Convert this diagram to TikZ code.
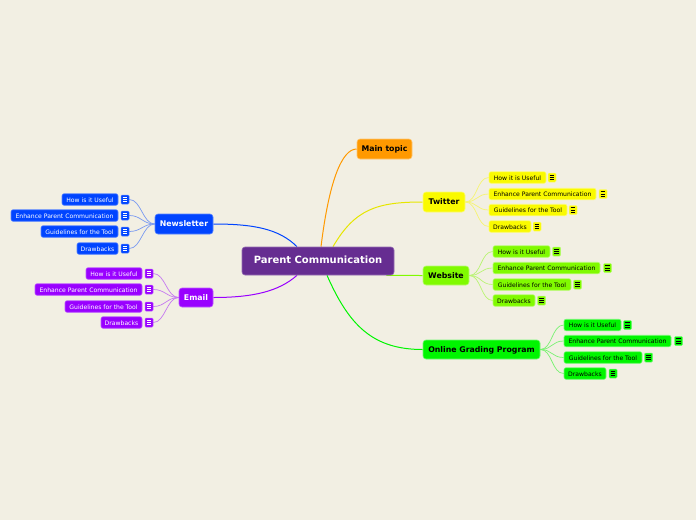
\documentclass[tikz,border=0pt]{standalone}
\usepackage{fontspec}
\setmainfont{DejaVu Sans}
\usetikzlibrary{backgrounds}
\definecolor{bgc}{RGB}{242,239,227}
\definecolor{cPC}{RGB}{102,45,145}
\definecolor{cMain}{RGB}{255,153,0}
\definecolor{cTw}{RGB}{250,250,0}
\definecolor{cWeb}{RGB}{128,250,0}
\definecolor{cOGP}{RGB}{0,245,0}
\definecolor{cNews}{RGB}{0,68,255}
\definecolor{cEmail}{RGB}{153,0,255}
\begin{document}
\begin{tikzpicture}[x=1pt,y=-1pt,
  box/.style={rounded corners=3pt, inner sep=0pt, line width=0.6pt, text height=0.72em, text depth=0.18em},
  topic/.style={box, minimum height=20pt, font=\fontsize{7.8}{9}\selectfont\bfseries},
  sub/.style={box, rounded corners=2pt, minimum height=11.5pt, font=\fontsize{6.1}{7}\selectfont},
  darkbox/.style={fill=#1, draw=#1!65!white, text=white},
  lightbox/.style={fill=#1, draw=#1!55!white, text=black},
  iconW/.style={fill=#1, draw=#1!65!white, line width=0.5pt, rounded corners=1pt, minimum width=8pt, minimum height=9pt, inner sep=0pt,
    path picture={\foreach \dy in {-2.3,0,2.3}{\draw[white, line width=0.9pt] ([xshift=-2.4pt,yshift=\dy pt]path picture bounding box.center) -- ++(4.8,0);}}},
  iconK/.style={fill=#1, draw=#1!55!white, line width=0.5pt, rounded corners=1pt, minimum width=8pt, minimum height=9pt, inner sep=0pt,
    path picture={\foreach \dy in {-2.3,0,2.3}{\draw[black, line width=0.9pt] ([xshift=-2.4pt,yshift=\dy pt]path picture bounding box.center) -- ++(4.8,0);}}},
  mainln/.style={line width=1pt},
  subln/.style={line width=0.7pt, draw=#1!50!bgc}
]
\useasboundingbox (0,0) rectangle (696,520);
\begin{scope}[on background layer]
\fill[bgc] (0,0) rectangle (696,520);
\end{scope}

% central topic
\node[box, fill=cPC, draw=cPC!70!white, text=white, minimum width=152pt, minimum height=28pt, font=\fontsize{10}{12}\selectfont\bfseries] (pc) at (318,261) {Parent Communication};

% main topics
\node[topic, lightbox=cMain, minimum width=55pt] (mt) at (384.5,149) {Main topic};
\node[topic, lightbox=cTw, minimum width=42pt] (tw) at (444,202) {Twitter};
\node[topic, lightbox=cWeb, minimum width=46pt, minimum height=19pt] (web) at (446,275.5) {Website};
\node[topic, lightbox=cOGP, minimum width=117pt, minimum height=19pt] (ogp) at (481.5,349.5) {Online Grading Program};
\node[topic, darkbox=cNews, minimum width=58pt] (nl) at (184,224) {Newsletter};
\node[topic, darkbox=cEmail, minimum width=34pt, minimum height=19pt] (em) at (196,297.5) {Email};

% Newsletter children
\node[sub, darkbox=cNews, minimum width=56pt] (n1) at (90,199.5) {How is it Useful};
\node[sub, darkbox=cNews, minimum width=107pt] (n2) at (64.5,215.5) {Enhance Parent Communication};
\node[sub, darkbox=cNews, minimum width=77pt] (n3) at (79.5,231.5) {Guidelines for the Tool};
\node[sub, darkbox=cNews, minimum width=41pt] (n4) at (97.5,248.5) {Drawbacks};
\node[iconW=cNews] (n1i) at (125,199.5) {};
\node[iconW=cNews] (n2i) at (125,215.5) {};
\node[iconW=cNews] (n3i) at (125,231.5) {};
\node[iconW=cNews] (n4i) at (125,248.5) {};

% Email children
\node[sub, darkbox=cEmail, minimum width=56pt] (e1) at (114,273.5) {How is it Useful};
\node[sub, darkbox=cEmail, minimum width=107pt] (e2) at (88.5,289.5) {Enhance Parent Communication};
\node[sub, darkbox=cEmail, minimum width=77pt] (e3) at (103.5,306.5) {Guidelines for the Tool};
\node[sub, darkbox=cEmail, minimum width=41pt] (e4) at (121.5,322.5) {Drawbacks};
\node[iconW=cEmail] (e1i) at (149,273.5) {};
\node[iconW=cEmail] (e2i) at (149,289.5) {};
\node[iconW=cEmail] (e3i) at (149,306.5) {};
\node[iconW=cEmail] (e4i) at (149,322.5) {};

% Twitter children
\node[sub, lightbox=cTw, minimum width=57pt] (t1) at (517.5,177.5) {How it is Useful};
\node[sub, lightbox=cTw, minimum width=107pt] (t2) at (542.5,194) {Enhance Parent Communication};
\node[sub, lightbox=cTw, minimum width=78pt] (t3) at (528,210) {Guidelines for the Tool};
\node[sub, lightbox=cTw, minimum width=42pt] (t4) at (510,226.5) {Drawbacks};
\node[iconK=cTw] (t1i) at (552,177.5) {};
\node[iconK=cTw] (t2i) at (603,194) {};
\node[iconK=cTw] (t3i) at (573,210) {};
\node[iconK=cTw] (t4i) at (537,226.5) {};

% Website children
\node[sub, lightbox=cWeb, minimum width=57pt] (w1) at (521.5,251.5) {How is it Useful};
\node[sub, lightbox=cWeb, minimum width=107pt] (w2) at (546.5,268) {Enhance Parent Communication};
\node[sub, lightbox=cWeb, minimum width=78pt] (w3) at (532,284.5) {Guidelines for the Tool};
\node[sub, lightbox=cWeb, minimum width=42pt] (w4) at (514,300.5) {Drawbacks};
\node[iconK=cWeb] (w1i) at (556.5,251.5) {};
\node[iconK=cWeb] (w2i) at (607.5,268) {};
\node[iconK=cWeb] (w3i) at (577.5,284.5) {};
\node[iconK=cWeb] (w4i) at (541.5,300.5) {};

% Online Grading Program children
\node[sub, lightbox=cOGP, minimum width=57pt] (o1) at (592.5,325) {How is it Useful};
\node[sub, lightbox=cOGP, minimum width=107pt] (o2) at (617.5,341) {Enhance Parent Communication};
\node[sub, lightbox=cOGP, minimum width=78pt] (o3) at (603,357.5) {Guidelines for the Tool};
\node[sub, lightbox=cOGP, minimum width=42pt] (o4) at (585,373.5) {Drawbacks};
\node[iconK=cOGP] (o1i) at (627.5,325) {};
\node[iconK=cOGP] (o2i) at (678.5,341) {};
\node[iconK=cOGP] (o3i) at (648.5,357.5) {};
\node[iconK=cOGP] (o4i) at (613,373.5) {};

\begin{scope}[on background layer]
% main connectors
\draw[mainln, cMain] ([xshift=3pt]pc.north) .. controls +(8,-65) and +(-15,0) .. (mt.west);
\draw[mainln, cTw!92!black] ([xshift=15pt]pc.north) .. controls +(22,-38) and +(-45,0) .. (tw.west);
\draw[mainln, cWeb] ([xshift=-8pt]pc.south east) .. controls +(12,0) and +(-12,0) .. (web.west);
\draw[mainln, cOGP] ([xshift=9pt]pc.south) .. controls +(22,50) and +(-50,0) .. (ogp.west);
\draw[mainln, cNews] ([xshift=-21pt]pc.north) .. controls +(-18,-18) and +(40,0) .. (nl.east);
\draw[mainln, cEmail] ([xshift=-21pt]pc.south) .. controls +(-18,16) and +(40,0) .. (em.east);
% sub connectors
\foreach \c in {n1i,n2i,n3i,n4i}{\draw[subln=cNews] (nl.west) .. controls +(-12,0) and +(12,0) .. (\c.east);}
\foreach \c in {e1i,e2i,e3i,e4i}{\draw[subln=cEmail] (em.west) .. controls +(-12,0) and +(12,0) .. (\c.east);}
\foreach \c in {t1,t2,t3,t4}{\draw[subln=cTw] (tw.east) .. controls +(12,0) and +(-12,0) .. (\c.west);}
\foreach \c in {w1,w2,w3,w4}{\draw[subln=cWeb] (web.east) .. controls +(12,0) and +(-12,0) .. (\c.west);}
\foreach \c in {o1,o2,o3,o4}{\draw[subln=cOGP] (ogp.east) .. controls +(12,0) and +(-12,0) .. (\c.west);}
\end{scope}
\end{tikzpicture}
\end{document}
